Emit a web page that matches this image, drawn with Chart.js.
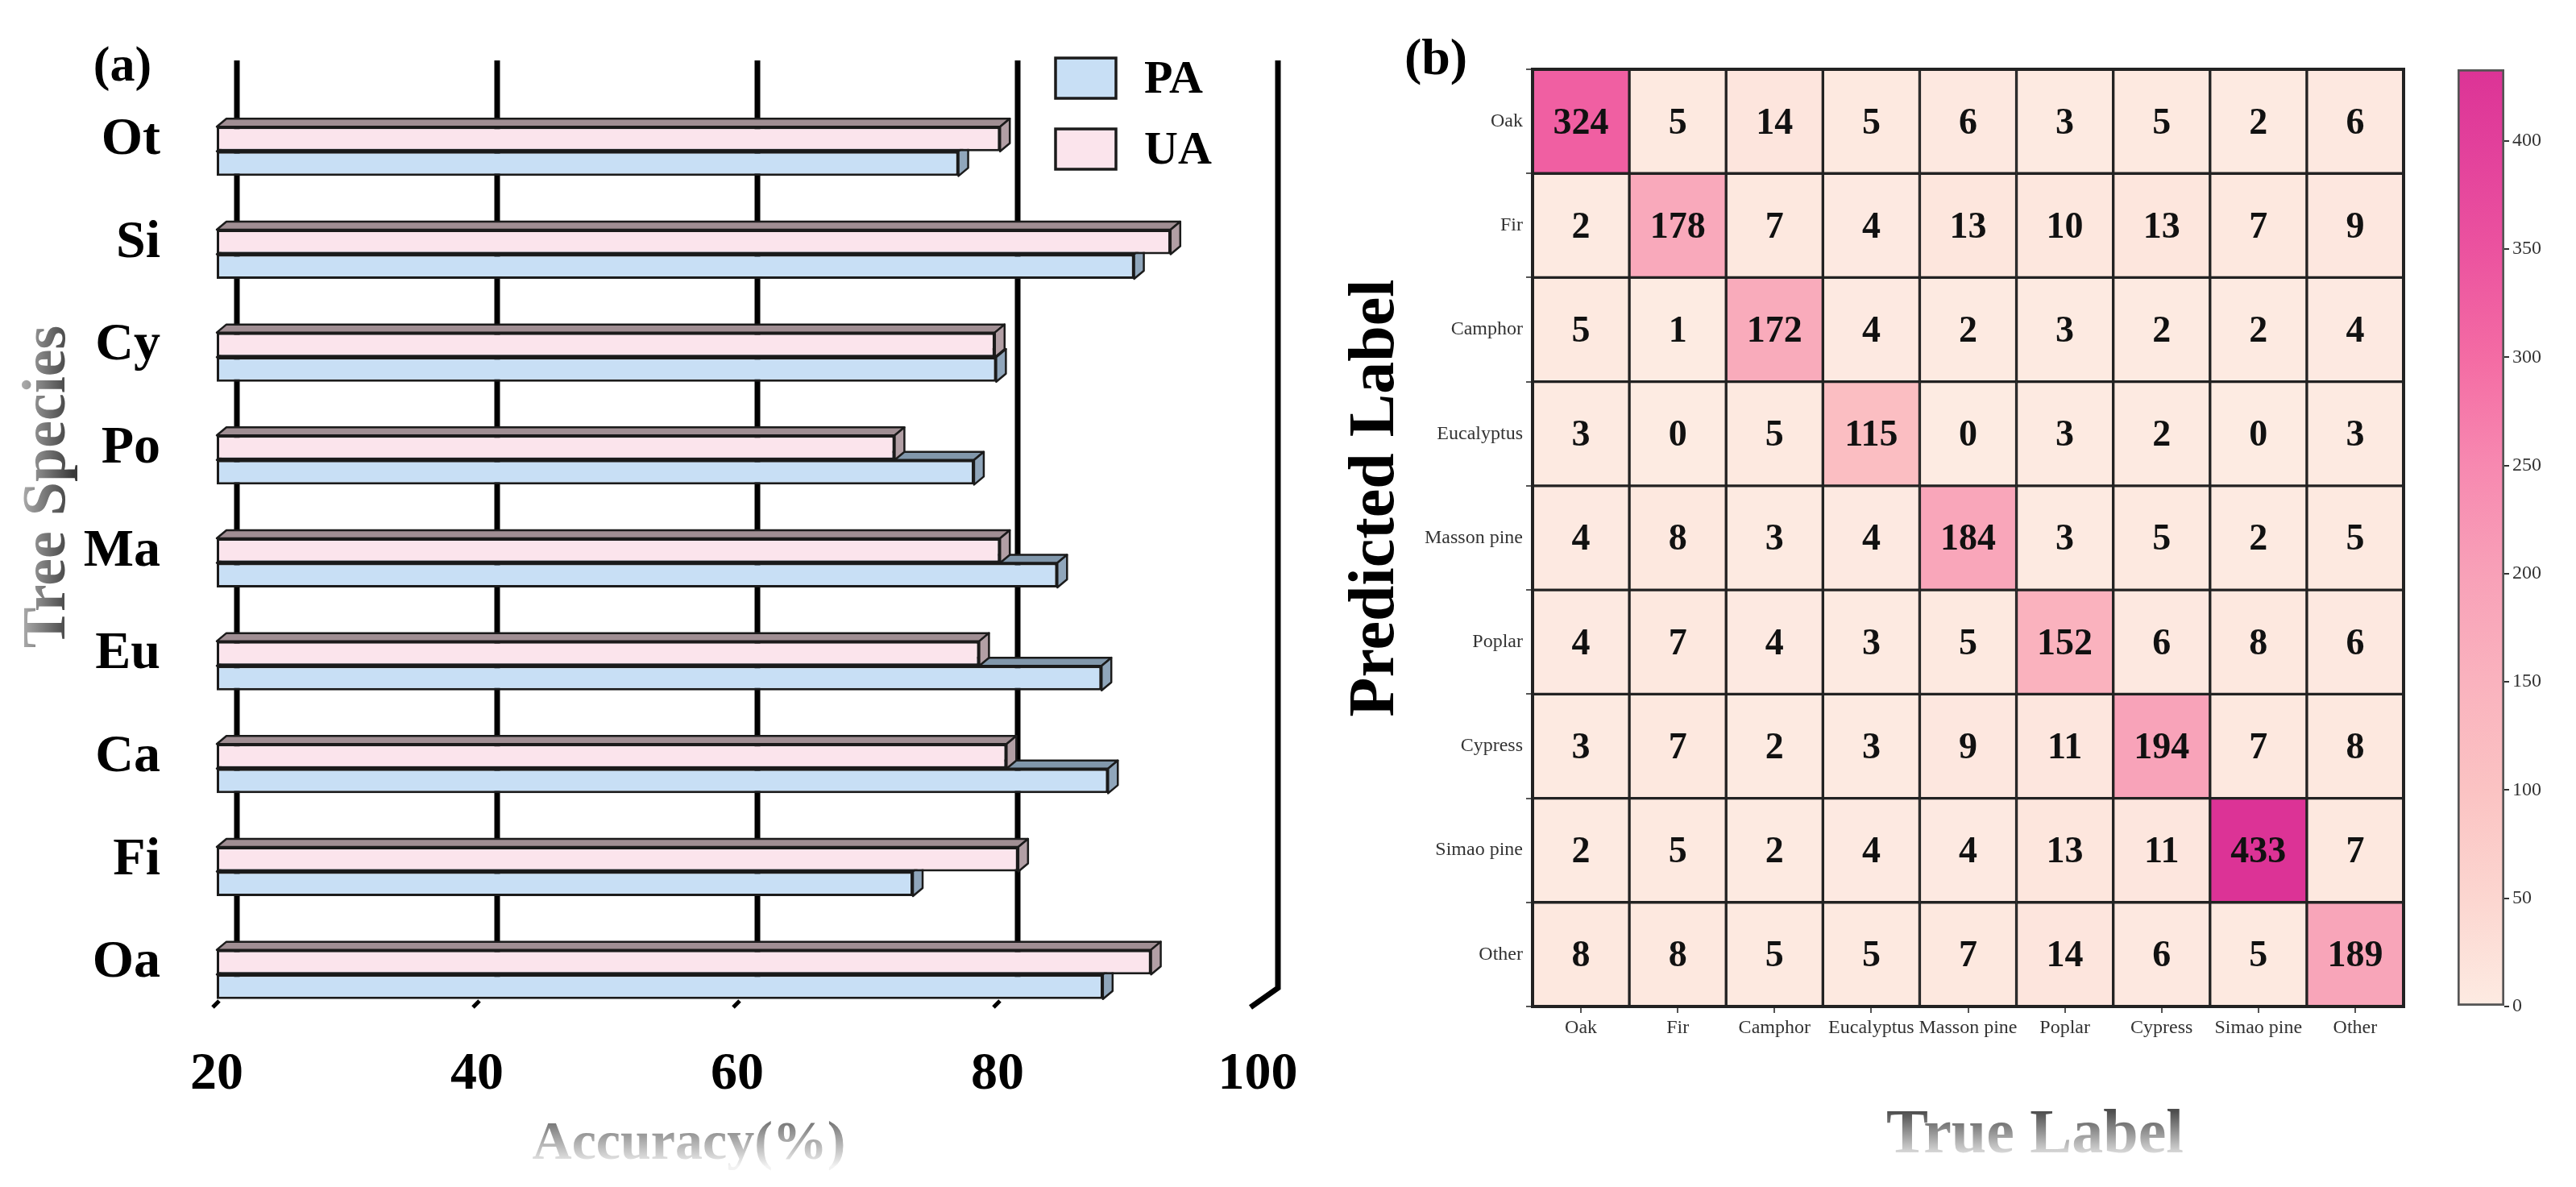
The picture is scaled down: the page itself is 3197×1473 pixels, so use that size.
<!DOCTYPE html>
<html>
<head>
<meta charset="utf-8">
<script src="https://cdn.jsdelivr.net/npm/chart.js@4.4.1/dist/chart.umd.min.js"></script>
<style>
  html, body { margin: 0; padding: 0; background: #fff; }
  body { width: 3197px; height: 1473px; position: relative; overflow: hidden; }
  .box { position: absolute; top: 0; height: 1473px; }
  #barBox { left: 0; width: 1700px; }
  #heatBox { left: 1640px; width: 1400px; }
  #cbarBox { left: 2980px; width: 217px; }
</style>
</head>
<body>
<div class="box" id="barBox"><canvas id="barChart"></canvas></div>
<div class="box" id="heatBox"><canvas id="heatChart"></canvas></div>
<div class="box" id="cbarBox"><canvas id="cbarChart"></canvas></div>
<script>
// (a) accuracy per tree species, top to bottom
const species = ['Ot', 'Si', 'Cy', 'Po', 'Ma', 'Eu', 'Ca', 'Fi', 'Oa'];
const uaValues = [80.2, 93.3, 79.8, 72.1, 80.2, 78.6, 80.7, 81.6, 91.8];
const paValues = [77.0, 90.5, 79.9, 78.2, 84.6, 88.0, 88.5, 73.5, 88.1];
const accuracyTicks = [20, 40, 60, 80, 100];

// (b) confusion matrix, rows = predicted, columns = true
const trueLabels = ['Oak', 'Fir', 'Camphor', 'Eucalyptus', 'Masson pine', 'Poplar', 'Cypress', 'Simao pine', 'Other'];
const predictedLabels = ['Oak', 'Fir', 'Camphor', 'Eucalyptus', 'Masson pine', 'Poplar', 'Cypress', 'Simao pine', 'Other'];
const confusion = [
  [324, 5, 14, 5, 6, 3, 5, 2, 6],
  [2, 178, 7, 4, 13, 10, 13, 7, 9],
  [5, 1, 172, 4, 2, 3, 2, 2, 4],
  [3, 0, 5, 115, 0, 3, 2, 0, 3],
  [4, 8, 3, 4, 184, 3, 5, 2, 5],
  [4, 7, 4, 3, 5, 152, 6, 8, 6],
  [3, 7, 2, 3, 9, 11, 194, 7, 8],
  [2, 5, 2, 4, 4, 13, 11, 433, 7],
  [8, 8, 5, 5, 7, 14, 6, 5, 189],
];
const colorbarTicks = [0, 50, 100, 150, 200, 250, 300, 350, 400];

const vmax = Math.max(...confusion.flat());
const SERIF = '"Liberation Serif", "Times New Roman", serif';

Chart.defaults.font.family = SERIF;
Chart.defaults.animation = false;

// pink colormap
const cmapStops = [
  [0, '#fdebe2'], [0.115, '#fcd6d0'], [0.23, '#fbc3c3'], [0.35, '#fab2be'], [0.46, '#f8a1b8'],
  [0.58, '#f788b0'], [0.69, '#f46ca4'], [0.81, '#eb529f'], [0.92, '#e2409b'], [1, '#dc3396'],
];
const hex = (h) => [1, 3, 5].map((i) => parseInt(h.slice(i, i + 2), 16));
const cmap = (t) => {
  for (let k = 1; k < cmapStops.length; k++) {
    const [t1, c1] = cmapStops[k];
    if (t <= t1) {
      const [t0, c0] = cmapStops[k - 1];
      const f = (t - t0) / (t1 - t0);
      const a = hex(c0), b = hex(c1);
      return `rgb(${a.map((v, i) => Math.round(v + (b[i] - v) * f)).join(',')})`;
    }
  }
  return cmapStops[cmapStops.length - 1][1];
};

// faded grey text used for some axis titles
const fadedText = (ctx, text, x, y, size, angle, dark, light) => {
  ctx.save();
  ctx.translate(x, y);
  ctx.rotate(angle);
  ctx.font = `bold ${size}px ${SERIF}`;
  ctx.textAlign = 'center';
  ctx.textBaseline = 'middle';
  const g = ctx.createLinearGradient(0, -size * 0.4, 0, size * 0.4);
  g.addColorStop(0, dark);
  g.addColorStop(1, light);
  ctx.fillStyle = g;
  ctx.fillText(text, 0, 0);
  ctx.restore();
};

/* ---------- (a) pseudo 3D bars ---------- */
const DX = 12;
const DY = 10;
const WALL = 25;

const depth3d = {
  id: 'depth3d',
  beforeDatasetsDraw(chart) {
    const { ctx, chartArea, scales: { x } } = chart;
    const wallTop = chartArea.top - 49;
    const floorY = chartArea.bottom - 33;
    ctx.save();
    // back wall grid
    ctx.strokeStyle = '#000';
    ctx.lineWidth = 7;
    accuracyTicks.forEach((v) => {
      const px = x.getPixelForValue(v) + WALL;
      ctx.beginPath();
      ctx.moveTo(px, wallTop);
      if (v === accuracyTicks[accuracyTicks.length - 1]) {
        ctx.lineTo(px, floorY - 14);
        ctx.lineTo(px - WALL - 9, floorY + 10);
      } else {
        ctx.lineTo(px, floorY - 20);
      }
      ctx.stroke();
    });
    // small front ticks
    ctx.lineWidth = 5;
    accuracyTicks.slice(0, -1).forEach((v) => {
      const px = x.getPixelForValue(v);
      ctx.beginPath();
      ctx.moveTo(px + 3, floorY + 2);
      ctx.lineTo(px - 5, floorY + 10);
      ctx.stroke();
    });
    // top and side faces, lower bar first
    ctx.lineWidth = 2.5;
    ctx.strokeStyle = '#1b1b1b';
    ctx.lineJoin = 'round';
    [1, 0].forEach((di) => {
      const ds = chart.data.datasets[di];
      chart.getDatasetMeta(di).data.forEach((bar) => {
        const { x: xe, y, height } = bar.getProps(['x', 'y', 'height']);
        const base = Math.max(bar.base, chartArea.left);
        const top = y - height / 2;
        const bottom = y + height / 2;
        ctx.fillStyle = ds.topColor;
        ctx.beginPath();
        ctx.moveTo(base, top);
        ctx.lineTo(base + DX, top - DY);
        ctx.lineTo(xe + DX, top - DY);
        ctx.lineTo(xe, top);
        ctx.closePath();
        ctx.fill();
        ctx.stroke();
        ctx.fillStyle = ds.sideColor;
        ctx.beginPath();
        ctx.moveTo(xe, top);
        ctx.lineTo(xe + DX, top - DY);
        ctx.lineTo(xe + DX, bottom - DY);
        ctx.lineTo(xe, bottom);
        ctx.closePath();
        ctx.fill();
        ctx.stroke();
      });
    });
    ctx.restore();
  },
  afterDraw(chart) {
    const { ctx, chartArea } = chart;
    ctx.save();
    // legend, PA first
    const lx = chartArea.right - 251;
    [1, 0].forEach((di, k) => {
      const ds = chart.data.datasets[di];
      const ly = chartArea.top - 52 + k * 88;
      ctx.fillStyle = ds.backgroundColor;
      ctx.fillRect(lx, ly, 75, 50);
      ctx.strokeStyle = '#1b1b1b';
      ctx.lineWidth = 3.5;
      ctx.strokeRect(lx, ly, 75, 50);
      ctx.fillStyle = '#000';
      ctx.font = `bold 58px ${SERIF}`;
      ctx.textAlign = 'left';
      ctx.textBaseline = 'middle';
      ctx.fillText(ds.label, lx + 110, ly + 28);
    });
    // panel tag
    ctx.font = `bold 62px ${SERIF}`;
    ctx.textAlign = 'center';
    ctx.fillText('(a)', 152, 84);
    ctx.restore();
    fadedText(ctx, 'Accuracy(%)', 855, 1420, 68, 0, '#777', '#f2f2f2');
    fadedText(ctx, 'Tree Species', 60, 604, 76, -Math.PI / 2, '#a8a8a8', '#3a3a3a');
  },
};

new Chart(document.getElementById('barChart'), {
  type: 'bar',
  data: {
    labels: species,
    datasets: [
      {
        label: 'UA', data: uaValues, backgroundColor: '#fbe4ec', topColor: '#a08e93', sideColor: '#b29fa5',
      },
      {
        label: 'PA', data: paValues, backgroundColor: '#c8dff5', topColor: '#8197ab', sideColor: '#90a6bb',
      },
    ],
  },
  options: {
    indexAxis: 'y',
    responsive: true,
    maintainAspectRatio: false,
    devicePixelRatio: 1,
    events: [],
    layout: { padding: { top: 124, right: 139, left: 0, bottom: 0 } },
    datasets: {
      bar: {
        base: accuracyTicks[0],
        borderColor: '#1b1b1b',
        borderWidth: 3,
        borderSkipped: false,
        categoryPercentage: 0.478,
        barPercentage: 1,
      },
    },
    plugins: { legend: { display: false }, tooltip: { enabled: false } },
    scales: {
      x: {
        type: 'linear',
        min: 20,
        max: 100,
        afterBuildTicks: (s) => { s.ticks = accuracyTicks.map((v) => ({ value: v })); },
        afterFit: (s) => { s.height = 200; },
        grid: { display: false },
        border: { display: false },
        ticks: { font: { size: 66, weight: 'bold' }, color: '#000', padding: 13 },
      },
      y: {
        afterFit: (s) => { s.width = 269; },
        grid: { display: false },
        border: { display: false },
        ticks: { font: { size: 66, weight: 'bold' }, color: '#000', padding: 62, labelOffset: -14 },
      },
    },
  },
  plugins: [depth3d],
});

/* ---------- (b) confusion matrix ---------- */
const heatText = {
  id: 'heatText',
  afterDatasetsDraw(chart) {
    const { ctx, chartArea } = chart;
    ctx.save();
    ctx.font = `bold 46px ${SERIF}`;
    ctx.fillStyle = '#111';
    ctx.textAlign = 'center';
    ctx.textBaseline = 'middle';
    chart.data.datasets.forEach((ds, j) => {
      chart.getDatasetMeta(j).data.forEach((cell, i) => {
        const { x, y, base } = cell.getProps(['x', 'y', 'base']);
        ctx.fillText(String(confusion[i][j]), (x + base) / 2, y + 3);
      });
    });
    ctx.strokeStyle = '#222';
    ctx.lineWidth = 4;
    ctx.strokeRect(chartArea.left, chartArea.top, chartArea.width, chartArea.height);
    ctx.restore();
  },
  afterDraw(chart) {
    const { ctx, chartArea } = chart;
    ctx.save();
    ctx.fillStyle = '#000';
    ctx.font = `bold 64px ${SERIF}`;
    ctx.textAlign = 'center';
    ctx.textBaseline = 'middle';
    ctx.fillText('(b)', chartArea.left - 120, 75);
    ctx.translate(chartArea.left - 194, 618);
    ctx.rotate(-Math.PI / 2);
    ctx.font = `bold 80px ${SERIF}`;
    ctx.fillText('Predicted Label', 0, 0);
    ctx.restore();
    fadedText(ctx, 'True Label', (chartArea.left + chartArea.right) / 2 + 83, 1410, 78, 0, '#4d4d4d', '#f5f5f5');
  },
};

const heatDatasets = trueLabels.map((name, j) => ({
  label: name,
  data: predictedLabels.map(() => [j, j + 1]),
  backgroundColor: confusion.map((row) => cmap(row[j] / vmax)),
}));

new Chart(document.getElementById('heatChart'), {
  type: 'bar',
  data: { labels: predictedLabels, datasets: heatDatasets },
  options: {
    indexAxis: 'y',
    responsive: true,
    maintainAspectRatio: false,
    devicePixelRatio: 1,
    events: [],
    layout: { padding: { top: 86, right: 57, left: 0, bottom: 0 } },
    datasets: {
      bar: {
        borderColor: '#222', borderWidth: 2, borderSkipped: false, barPercentage: 1, categoryPercentage: 1, grouped: false,
      },
    },
    plugins: { legend: { display: false }, tooltip: { enabled: false } },
    scales: {
      x: {
        type: 'linear',
        min: 0,
        max: trueLabels.length,
        afterBuildTicks: (s) => { s.ticks = trueLabels.map((_, i) => ({ value: i + 0.5 })); },
        afterFit: (s) => { s.height = 224; },
        grid: { drawOnChartArea: false, tickLength: 8, color: '#555', lineWidth: 2 },
        border: { display: false },
        ticks: {
          callback: (v, i) => trueLabels[i], autoSkip: false, maxRotation: 0, font: { size: 24 }, color: '#333', padding: 4,
        },
      },
      y: {
        afterFit: (s) => { s.width = 262; },
        grid: { drawOnChartArea: false, tickLength: 8, color: '#555', lineWidth: 2 },
        border: { display: false },
        ticks: { font: { size: 24 }, color: '#333', padding: 4 },
      },
    },
  },
  plugins: [heatText],
});

/* ---------- colorbar ---------- */
new Chart(document.getElementById('cbarChart'), {
  type: 'bar',
  data: {
    labels: [''],
    datasets: [{
      data: [[0, vmax]],
      backgroundColor: (c) => {
        const { chartArea, ctx } = c.chart;
        if (!chartArea) return null;
        const g = ctx.createLinearGradient(0, chartArea.bottom, 0, chartArea.top);
        cmapStops.forEach(([t, col]) => g.addColorStop(t, col));
        return g;
      },
      borderColor: '#555',
      borderWidth: 3,
      borderSkipped: false,
      barPercentage: 1,
      categoryPercentage: 1,
    }],
  },
  options: {
    responsive: true,
    maintainAspectRatio: false,
    devicePixelRatio: 1,
    events: [],
    layout: { padding: { top: 86, left: 70, bottom: 224, right: 0 } },
    plugins: { legend: { display: false }, tooltip: { enabled: false } },
    scales: {
      x: { display: false },
      y: {
        position: 'right',
        min: 0,
        max: vmax,
        afterBuildTicks: (s) => { s.ticks = colorbarTicks.map((v) => ({ value: v })); },
        afterFit: (s) => { s.width = 89; },
        grid: { drawOnChartArea: false, tickLength: 6, color: '#333', lineWidth: 2 },
        border: { display: false },
        ticks: { font: { size: 24 }, color: '#333', padding: 4 },
      },
    },
  },
});
</script>
</body>
</html>
